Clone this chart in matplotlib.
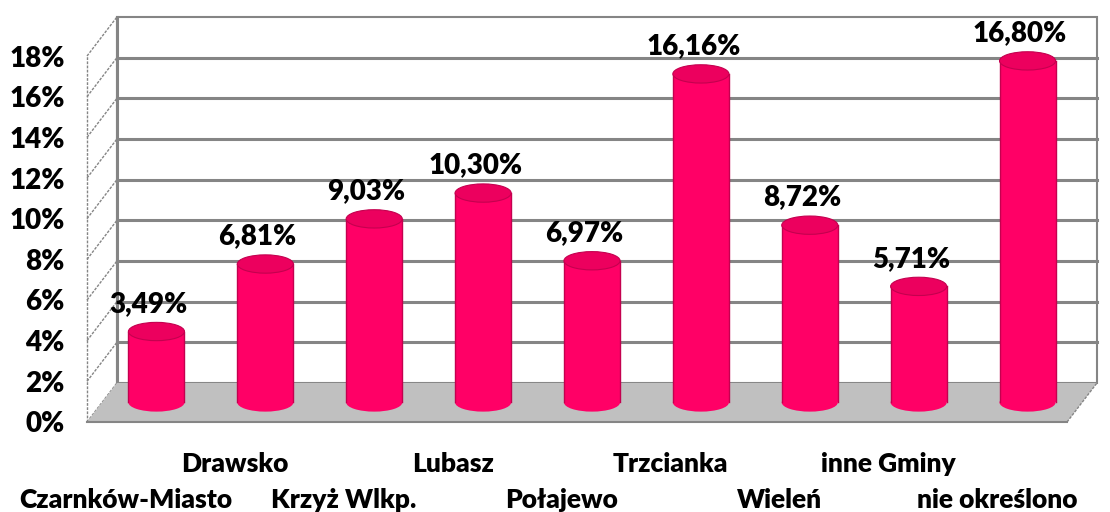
import numpy as np
import matplotlib.pyplot as plt
from matplotlib.patches import Polygon, Rectangle, Ellipse

plt.rcParams['font.family'] = ['Lato', 'DejaVu Sans']
plt.rcParams['font.weight'] = 'heavy'

# donnees
gminy = ['Czarnków-Miasto', 'Drawsko', 'Krzyż Wlkp.', 'Lubasz', 'Połajewo',
         'Trzcianka', 'Wieleń', 'inne Gminy', 'nie określono']
procent = [3.49, 6.81, 9.03, 10.30, 6.97, 16.16, 8.72, 5.71, 16.80]
yticks = np.arange(0, 19, 2)
ytick_labels = [f'{t}%' for t in yticks]

# effet 3D
DX, DY = 0.275, 1.92
szary = '#858585'
kolor = '#ff0066'
kolor_top = '#ec005e'

fig = plt.figure(figsize=(11.1, 5.12), dpi=100)
ax = fig.add_axes([0.0784, 0.1758, 0.8829, 0.7148])
n = len(gminy)
ax.set_xlim(-0.5, n - 0.5)
ax.set_ylim(0, 18)
ax.patch.set_visible(False)
for s in ax.spines.values():
    s.set_visible(False)

x0, x1 = -0.5, n - 0.5
ymax = yticks[-1]

# mur du fond
ax.add_patch(Rectangle((x0 + DX, DY), n, ymax, fc='white', ec=szary,
                       lw=1.5, clip_on=False, zorder=1))
for t in yticks[1:-1]:
    ax.plot([x0 + DX, x1 + DX], [t + DY, t + DY], color=szary, lw=2.2,
            clip_on=False, zorder=2)
ax.plot([x0 + DX, x0 + DX], [DY, ymax + DY], color=szary, lw=2.2,
        clip_on=False, zorder=2)

# mur de gauche
for t in yticks:
    ax.plot([x0, x0 + DX], [t, t + DY], color=szary, lw=1, ls=(0, (2, 1)),
            clip_on=False, zorder=2)
ax.plot([x0, x0], [0, ymax], color=szary, lw=1, ls=(0, (2, 1)),
        clip_on=False, zorder=2)

# sol
ax.add_patch(Polygon([(x0, 0), (x1, 0), (x1 + DX, DY), (x0 + DX, DY)],
                     closed=True, fc='#c0c0c0', ec='none', clip_on=False, zorder=3))
ax.plot([x0, x1], [0, 0], color=szary, lw=1.5, clip_on=False, zorder=3)
ax.plot([x1, x1 + DX], [0, DY], color=szary, lw=1, ls=(0, (2, 1)),
        clip_on=False, zorder=3)

# cylindres
w, eh = 0.515, 0.9
for i, v in enumerate(procent):
    cx = i + DX / 2
    y0 = DY / 2
    z = 4 + i * 0.01
    ax.add_patch(Ellipse((cx, y0), w, eh, fc=kolor, ec='none', clip_on=False, zorder=z))
    ax.add_patch(Rectangle((cx - w / 2, y0), w, v, fc=kolor, ec='none',
                           clip_on=False, zorder=z))
    ax.plot([cx - w / 2, cx - w / 2], [y0, y0 + v], color='#c4004f', lw=1, zorder=z)
    ax.plot([cx + w / 2, cx + w / 2], [y0, y0 + v], color='#c4004f', lw=1, zorder=z)
    ax.add_patch(Ellipse((cx, y0 + v), w, eh, fc=kolor_top, ec='#c4004f', lw=0.8,
                         clip_on=False, zorder=z + 0.005))
    ax.annotate(f'{v:.2f}'.replace('.', ',') + '%', xy=(cx - 0.07, y0 + v + eh / 2),
                xytext=(0, 4), textcoords='offset points', ha='center', va='bottom',
                fontsize=20, zorder=10, annotation_clip=False)

# axes
ax.set_yticks(yticks, ytick_labels)
ax.tick_params(axis='y', length=0, pad=16, labelsize=20)
ax.set_xticks([])
# etiquettes des categories sur deux rangees
for i, g in enumerate(gminy):
    dy_pt = -36 if i % 2 else -62
    ax.annotate(g, xy=(i, 0), xytext=(-11, dy_pt), textcoords='offset points',
                ha='center', va='baseline', fontsize=19,
                annotation_clip=False)

fig.savefig('out.png', dpi=100)
